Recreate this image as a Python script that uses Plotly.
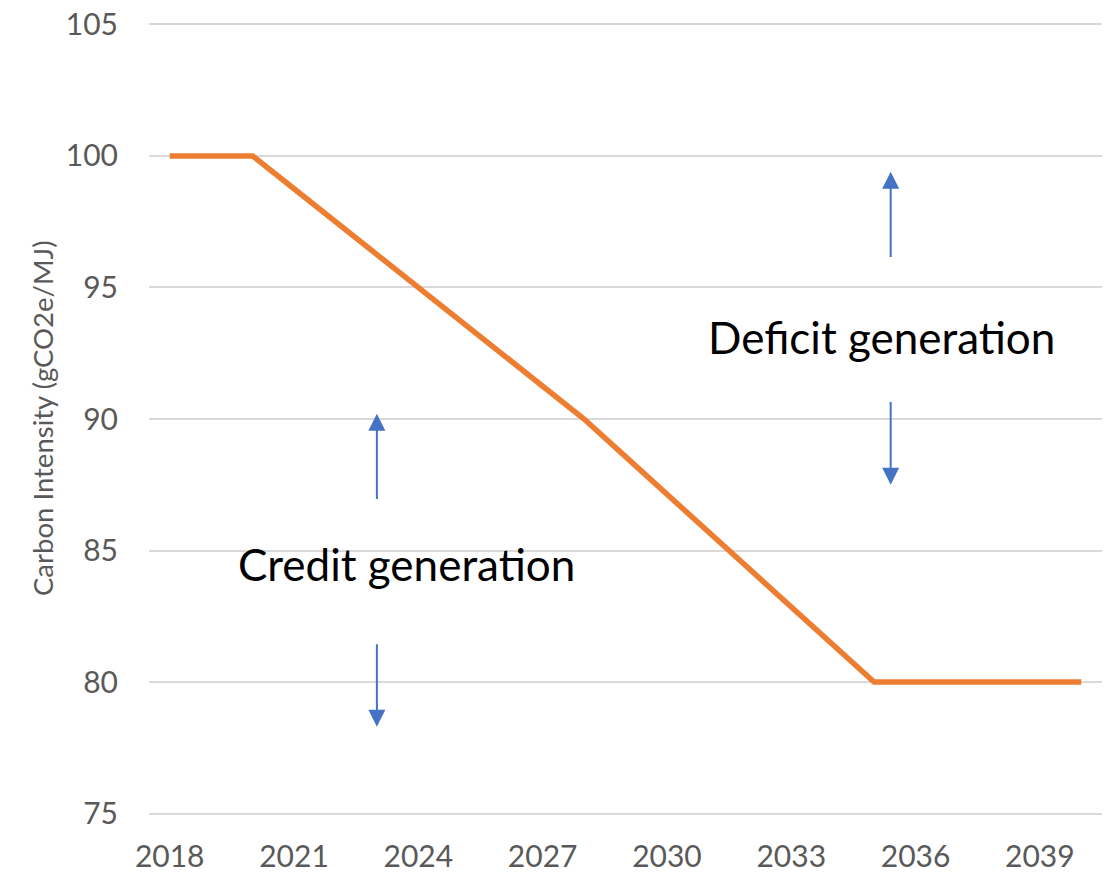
import plotly.graph_objects as go

years = list(range(2018, 2041))
carbon_intensity = [100, 100, 100, 98.75, 97.5, 96.25, 95, 93.75, 92.5, 91.25, 90,
                    88.57, 87.14, 85.71, 84.29, 82.86, 81.43, 80, 80, 80, 80, 80, 80]
x_ticks = [2018, 2021, 2024, 2027, 2030, 2033, 2036, 2039]
y_ticks = [75, 80, 85, 90, 95, 100, 105]

# arrows: (x, tail_y, head_y)
arrows_x = [2023, 2023, 2035.4, 2035.4]
arrows_tail = [86.9, 81.5, 96.1, 90.7]
arrows_head = [90.2, 78.3, 99.4, 87.5]

labels = ["Credit generation", "Deficit generation"]
labels_x = [2023.72, 2035.18]
labels_y = [84.5, 93.12]

ORANGE = "#ED7D31"
BLUE = "#4472C4"
GRAY = "#595959"
FONT = "Lato, Carlito, Calibri, sans-serif"

fig = go.Figure()
fig.add_trace(go.Scatter(x=years, y=carbon_intensity, mode="lines",
                         line=dict(color=ORANGE, width=5.5), showlegend=False,
                         hoverinfo="skip"))

annotations = []
for x, t, h in zip(arrows_x, arrows_tail, arrows_head):
    annotations.append(dict(x=x, y=h, ax=x, ay=t, xref="x", yref="y", axref="x", ayref="y",
                            text="", showarrow=True, arrowhead=2, arrowsize=1.7,
                            arrowwidth=2, arrowcolor=BLUE, standoff=0, startstandoff=0))
for txt, x, y in zip(labels, labels_x, labels_y):
    annotations.append(dict(x=x, y=y, xref="x", yref="y", text=txt, showarrow=False,
                            font=dict(family=FONT, size=44, color="#000000"),
                            xanchor="center", yanchor="middle"))
annotations.append(dict(x=0, y=0.5, xref="paper", yref="paper", xanchor="center",
                        yanchor="middle", xshift=-107, text="Carbon Intensity (gCO2e/MJ)",
                        textangle=-90, showarrow=False,
                        font=dict(family=FONT, size=27.5, color=GRAY)))

fig.update_layout(
    width=1114, height=872,
    margin=dict(l=149, r=12, t=23, b=57, autoexpand=False),
    paper_bgcolor="white", plot_bgcolor="white",
    annotations=annotations,
    font=dict(family=FONT, color=GRAY),
)
fig.update_xaxes(range=[2017.5, 2040.5], tickvals=x_ticks, showgrid=False, zeroline=False,
                 showline=False, ticks="", ticklabelstandoff=21, automargin=False,
                 tickfont=dict(family=FONT, size=30, color=GRAY))
fig.update_yaxes(range=[74.95, 105.05], tickvals=y_ticks, showgrid=True, gridcolor="#D9D9D9",
                 gridwidth=1.5, zeroline=False, showline=False, ticks="", automargin=False,
                 ticklabelstandoff=30, tickfont=dict(family=FONT, size=30, color=GRAY))

fig.write_html("out.html")
